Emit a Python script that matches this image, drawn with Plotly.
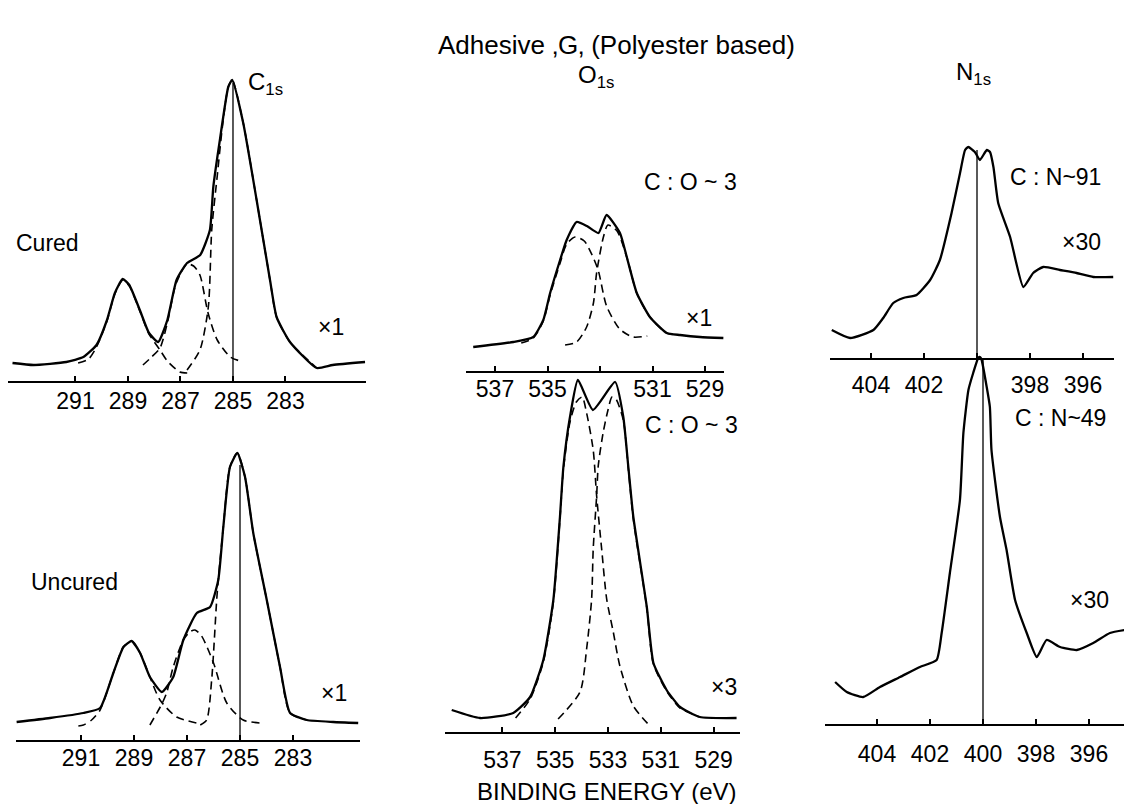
import plotly.graph_objects as go

W, H = 1132, 804
OFF = 8  # page body margin of the html page
FW, FH = W - OFF, H - OFF
FONT = "Liberation Sans, Arial, sans-serif"

# ---------------- data (binding energy in eV, intensity in arbitrary units) ----------------
# C1s cured
c_cur_be = [293.4, 292.6, 291.35, 290.7, 290.2, 289.8, 289.5, 289.2, 288.95, 288.55, 288.2, 287.85,
            287.5, 287.15, 286.75, 286.25, 285.88, 285.75, 285.5, 285.18, 285.03, 284.61, 284.1,
            283.59, 283.34, 282.83, 281.81, 281.2, 279.97]
c_cur_i = [18, 16, 19, 24, 36, 61, 88, 102, 96, 71, 48, 39, 61, 101, 118, 126, 151, 194, 241, 294,
           301, 258, 181, 101, 64, 39, 13, 16, 19]
c_cur_a_be = [290.9, 290.5, 290.2, 289.8, 289.5, 289.2, 288.95, 288.55, 288.2, 287.78, 287.5, 287.02, 286.7]
c_cur_a_i = [18, 22, 34, 60, 87, 101, 95, 70, 47, 31, 20, 9, 8]
c_cur_b_be = [288.43, 288.1, 287.78, 287.5, 287.2, 286.95, 286.75, 286.5, 286.26, 285.95, 285.6, 285.1, 284.73]
c_cur_b_i = [16, 24, 33, 58, 95, 110, 117, 115, 106, 68, 41, 24, 20]
c_cur_c_be = [286.75, 286.26, 285.94, 285.81, 285.6, 285.4, 285.18, 285.03, 284.61, 284.1, 283.59,
              283.34, 282.83, 281.81]
c_cur_c_i = [11, 31, 74, 151, 205, 255, 294, 301, 258, 181, 101, 64, 39, 13]

# C1s uncured
c_unc_be = [293.43, 292.17, 290.91, 290.28, 289.78, 289.4, 289.09, 288.77, 288.4, 287.95, 287.52,
            287.14, 286.63, 286.13, 285.82, 285.63, 285.38, 285.1, 284.81, 284.5, 283.99, 283.49,
            283.11, 282.48, 281.48, 280.54]
c_unc_i = [18, 22, 27, 32, 67, 93, 99, 87, 63, 48, 63, 100, 127, 133, 160, 213, 273, 287, 263, 207,
           140, 73, 27, 20, 18, 17]
c_unc_a_be = [291.1, 290.91, 290.6, 290.28, 289.78, 289.4, 289.09, 288.77, 288.4, 288.02, 287.39, 286.63]
c_unc_a_i = [14, 15, 20, 30, 67, 93, 99, 87, 63, 40, 23, 17]
c_unc_b_be = [288.4, 287.95, 287.77, 287.52, 287.14, 286.9, 286.7, 286.45, 286.0, 285.5, 284.88, 284.25]
c_unc_b_i = [15, 36, 47, 73, 100, 108, 110, 104, 77, 37, 20, 17]
c_unc_c_be = [286.5, 286.26, 286.07, 285.88, 285.82, 285.63, 285.38, 285.1, 284.81, 284.5, 283.99,
              283.49, 283.11, 282.48]
c_unc_c_i = [15, 20, 60, 140, 160, 213, 273, 287, 263, 207, 140, 73, 27, 20]

# O1s cured
o_cur_be = [537.83, 536.3, 535.54, 535.16, 534.9, 534.52, 534.27, 533.89, 533.5, 533.06, 532.75,
            532.24, 531.98, 531.6, 531.1, 530.46, 529.95, 529.19, 528.3]
o_cur_i = [24, 29, 34, 51, 78, 111, 131, 149, 145, 138, 156, 138, 114, 78, 54, 38, 36, 34, 33]
o_cur_a_be = [536.0, 535.54, 535.16, 534.9, 534.52, 534.27, 533.95, 533.6, 533.3, 533.06, 532.75,
              532.25, 531.75, 531.2]
o_cur_a_i = [28, 33, 50, 76, 108, 127, 134, 130, 116, 100, 65, 42, 34, 35]
o_cur_b_be = [534.33, 533.89, 533.51, 533.25, 533.13, 532.87, 532.7, 532.35, 531.98, 531.6, 531.1,
              530.46, 529.95]
o_cur_b_i = [26, 29, 44, 68, 98, 134, 146, 140, 114, 78, 54, 38, 36]

# O1s uncured
o_unc_be = [538.92, 537.85, 536.59, 535.95, 535.45, 535.07, 534.82, 534.69, 534.44, 534.14, 533.57,
            532.73, 532.42, 532.23, 532.04, 531.53, 531.28, 530.78, 530.27, 529.52, 528.13]
o_unc_i = [22, 14, 19, 35, 72, 132, 215, 265, 315, 352, 322, 350, 315, 265, 215, 125, 69, 42, 25, 15, 14]
o_unc_a_be = [536.5, 535.95, 535.45, 535.07, 534.82, 534.69, 534.44, 534.2, 533.98, 533.81, 533.56,
              533.43, 533.24, 533.05, 532.8, 532.55, 532.04, 531.41]
o_unc_a_i = [14, 33, 70, 130, 213, 262, 310, 330, 335, 319, 282, 236, 183, 133, 100, 66, 26, 6]
o_unc_b_be = [534.89, 534.06, 533.81, 533.62, 533.56, 533.43, 533.37, 533.18, 533.0, 532.85, 532.7,
              532.42, 532.23, 532.04, 531.53, 531.28, 530.78, 530.27, 529.52]
o_unc_b_i = [13, 40, 83, 133, 183, 236, 266, 300, 322, 335, 333, 312, 263, 213, 124, 68, 41, 24, 15]

# N1s cured
n_cur_be = [405.48, 404.79, 403.91, 403.54, 403.16, 402.78, 402.28, 401.77, 401.4, 400.96, 400.64,
            400.45, 400.33, 400.08, 399.89, 399.63, 399.51, 399.38, 399.2, 398.75, 398.25, 397.88,
            397.5, 396.87, 396.24, 395.61, 394.86]
n_cur_i = [28, 20, 28, 40, 55, 60, 63, 78, 98, 145, 185, 208, 211, 206, 198, 208, 206, 191, 155, 121,
           71, 85, 91, 88, 85, 81, 81]

# N1s uncured
n_unc_be = [405.58, 405.14, 404.52, 403.89, 403.13, 402.38, 401.75, 401.56, 401.25, 400.87, 400.74,
            400.55, 400.37, 400.18, 400.11, 400.05, 399.86, 399.74, 399.68, 399.36, 399.11, 398.79,
            398.35, 397.97, 397.6, 397.09, 396.46, 395.84, 395.21, 394.64]
n_unc_i = [42, 32, 27, 37, 47, 57, 64, 91, 151, 224, 291, 334, 351, 366, 367, 364, 337, 317, 274, 207,
           174, 124, 91, 67, 84, 77, 74, 81, 91, 94]

# reference energies (vertical markers)
c_ref_be = 285.0
n_ref_be = 400.0

c_ticks = [291, 289, 287, 285, 283]
o_ticks = [537, 535, 533, 531, 529]
n_ticks = [404, 402, 400, 398, 396]


# ---------------- layout helpers (window pixels -> paper) ----------------
def fx(p):
    return (p - OFF) / FW


def fy(p):
    return 1 - (p - OFF) / FH


fig = go.Figure()

# suffix, x px domain, y px domain (top,bottom), x range, y top, ticks, unlabeled tick, label standoff
panels = [
    ("", (8, 366), (60, 381), (293.571, 279.933), 321, c_ticks, None, -1),
    ("2", (16, 360), (440, 740), (293.453, 280.472), 300, c_ticks, None, -3),
    ("3", (466, 724), (150, 371), (538.105, 528.276), 221, o_ticks, 533, -3),
    ("4", (445, 740), (370, 732), (539.174, 528.0), 362, o_ticks, None, 7),
    ("5", (830, 1114), (130, 358), (405.547, 394.830), 228, n_ticks, 400, 6),
    ("6", (825, 1126), (350, 724), (405.962, 394.604), 374, n_ticks, None, 9),
]

for suf, (x0, x1), (ytop, ybot), xr, ymax, ticks, hidden, so in panels:
    labelled = [t for t in ticks if t != hidden]
    ax = dict(
        domain=[max(0.0, fx(x0)), min(1.0, fx(x1))], range=list(xr), anchor="y" + suf,
        showline=True, linecolor="black", linewidth=1.6, mirror=False,
        ticks="inside", ticklen=5, tickwidth=1.5, tickcolor="black",
        tickmode="array", tickvals=labelled, ticktext=[str(t) for t in labelled],
        tickfont=dict(family=FONT, size=23, color="black"),
        ticklabelstandoff=so,
        showgrid=False, zeroline=False, fixedrange=True,
    )
    if hidden is not None:
        # tick mark whose label is hidden behind the lower spectrum in the original
        ax["minor"] = dict(tickmode="array", tickvals=[hidden], ticks="inside", ticklen=5,
                           tickwidth=1.5, tickcolor="black", showgrid=False)
    fig.layout["xaxis" + suf] = ax
    fig.layout["yaxis" + suf] = dict(
        domain=[fy(ybot), fy(ytop)], range=[0, ymax], anchor="x" + suf,
        visible=False, showgrid=False, zeroline=False, fixedrange=True,
    )

SOLID = dict(color="black", width=2.3, shape="spline", smoothing=0.5)
DASH = dict(color="black", width=1.6, dash="8px,5px", shape="spline", smoothing=0.7)
REF = dict(color="black", width=1.3)


def add(xs, ys, line, suf):
    fig.add_trace(go.Scatter(x=xs, y=ys, mode="lines", line=line,
                             xaxis="x" + suf, yaxis="y" + suf,
                             hoverinfo="skip", showlegend=False))


# C1s cured
add(c_cur_be, c_cur_i, SOLID, "")
for bx, by in [(c_cur_a_be, c_cur_a_i), (c_cur_b_be, c_cur_b_i), (c_cur_c_be, c_cur_c_i)]:
    add(bx, by, DASH, "")
add([c_ref_be, c_ref_be], [0, max(c_cur_i) - 3], REF, "")

# C1s uncured
add(c_unc_be, c_unc_i, SOLID, "2")
for bx, by in [(c_unc_a_be, c_unc_a_i), (c_unc_b_be, c_unc_b_i), (c_unc_c_be, c_unc_c_i)]:
    add(bx, by, DASH, "2")
add([c_ref_be, c_ref_be], [0, max(c_unc_i) - 12], REF, "2")

# O1s cured
add(o_cur_be, o_cur_i, SOLID, "3")
add(o_cur_a_be, o_cur_a_i, DASH, "3")
add(o_cur_b_be, o_cur_b_i, DASH, "3")

# O1s uncured
add(o_unc_be, o_unc_i, SOLID, "4")
add(o_unc_a_be, o_unc_a_i, DASH, "4")
add(o_unc_b_be, o_unc_b_i, DASH, "4")

# N1s cured
add(n_cur_be, n_cur_i, SOLID, "5")
add([n_ref_be, n_ref_be], [0, max(n_cur_i) - 3], REF, "5")

# N1s uncured
add(n_unc_be, n_unc_i, SOLID, "6")
add([n_ref_be, n_ref_be], [0, max(n_unc_i) - 2], REF, "6")


# ---------------- text ----------------
def note(text, x, y, size=23, xanchor="left", family=FONT):
    fig.add_annotation(text=text, x=fx(x), y=fy(y), xref="paper", yref="paper",
                       xanchor=xanchor, yanchor="middle", showarrow=False,
                       font=dict(family=family, size=size, color="black"))


note("Adhesive \u201aG\u201a (Polyester based)", 617, 45, size=26, xanchor="center")
note("C<sub>1s</sub>", 246, 84, size=24)
note("O<sub>1s</sub>", 576, 76, size=24)
note("N<sub>1s</sub>", 954, 73, size=24)
note("Cured", 14, 243, size=23)
note("Uncured", 29, 582, size=23)
note("\u00d71", 346, 327, size=23, xanchor="right")
note("\u00d71", 349, 693, size=23, xanchor="right")
note("C : O ~ 3", 739, 182, size=23, xanchor="right")
note("\u00d71", 714, 318, size=23, xanchor="right")
note("C : O ~ 3", 740, 425, size=23, xanchor="right")
note("\u00d73", 739, 687, size=23, xanchor="right")
note("C : N~91", 1103, 177, size=23, xanchor="right")
note("\u00d730", 1103, 242, size=23, xanchor="right")
note("C : N~49", 1108, 418, size=23, xanchor="right")
note("\u00d730", 1111, 600, size=23, xanchor="right")
note("BINDING ENERGY (eV)", 607, 791, size=24, xanchor="center")

fig.update_layout(
    width=FW, height=FH,
    margin=dict(l=0, r=0, t=0, b=0),
    paper_bgcolor="white", plot_bgcolor="rgba(0,0,0,0)",
    showlegend=False,
    font=dict(family=FONT, color="black"),
)

fig.write_html("out.html", config={"displayModeBar": False})
